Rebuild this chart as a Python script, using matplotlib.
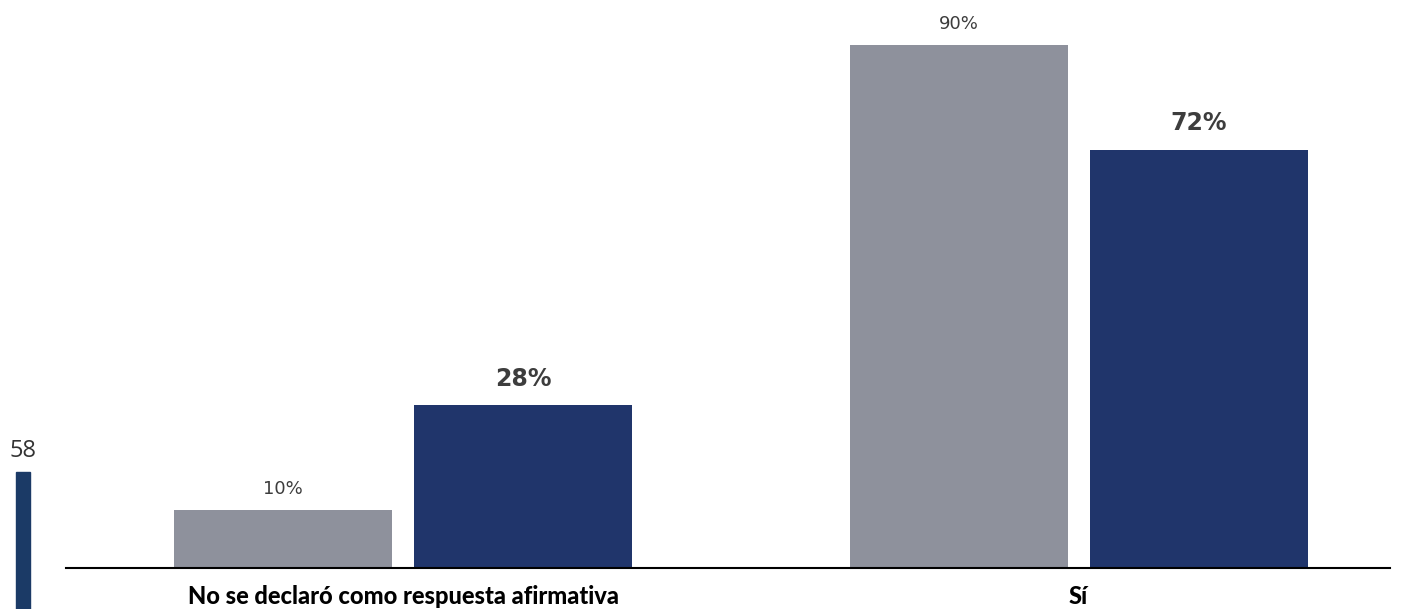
import matplotlib
matplotlib.use("Agg")
from matplotlib import pyplot as plt
from matplotlib.patches import Rectangle

categories = ["No se declaró como respuesta afirmativa", "Sí"]
serie_gris = [10, 90]
serie_azul = [28, 72]
etiq_gris = ["10%", "90%"]
etiq_azul = ["28%", "72%"]
pagina = "58"

gris = "#8e919c"
azul = "#20356b"
texto = "#3d3d3d"

fig = plt.figure(figsize=(14.06, 6.09), dpi=100)
fig.set_facecolor("white")
ax = fig.add_axes([66 / 1406, 41 / 609, (1390 - 66) / 1406, 568 / 609])

ancho = 0.3227
desp = 0.1777
x = list(range(len(categories)))

ax.bar([i - desp for i in x], serie_gris, width=ancho, color=gris)
ax.bar([i + desp for i in x], serie_azul, width=ancho, color=azul)

for i in x:
    ax.text(i - desp, serie_gris[i] + 2.1, etiq_gris[i], ha="center", va="bottom",
            fontsize=13, color=texto, family="DejaVu Sans")
    ax.text(i + desp, serie_azul[i] + 2.5, etiq_azul[i], ha="center", va="bottom",
            fontsize=17, fontweight="bold", color=texto, family="DejaVu Sans")
    ax.text(i, -2.9, categories[i], ha="center", va="top", fontsize=17,
            fontweight="black", color="black", family="Lato")

ax.set_xlim(-0.499, 1.461)
ax.set_ylim(0, 97.8)
ax.set_xticks([])
ax.set_yticks([])
for s in ["top", "right", "left"]:
    ax.spines[s].set_visible(False)
ax.spines["bottom"].set_linewidth(1.5)
ax.spines["bottom"].set_color("black")

# numero de pagina y barra lateral
fig.text(23 / 1406, 1 - 451 / 609, pagina, ha="center", va="center", fontsize=17,
         color="#333333", family="Open Sans")
fig.patches.append(Rectangle((16 / 1406, 0), 14 / 1406, (609 - 472) / 609,
                             transform=fig.transFigure, color="#1b3a66"))

fig.savefig("out.png", dpi=100)
